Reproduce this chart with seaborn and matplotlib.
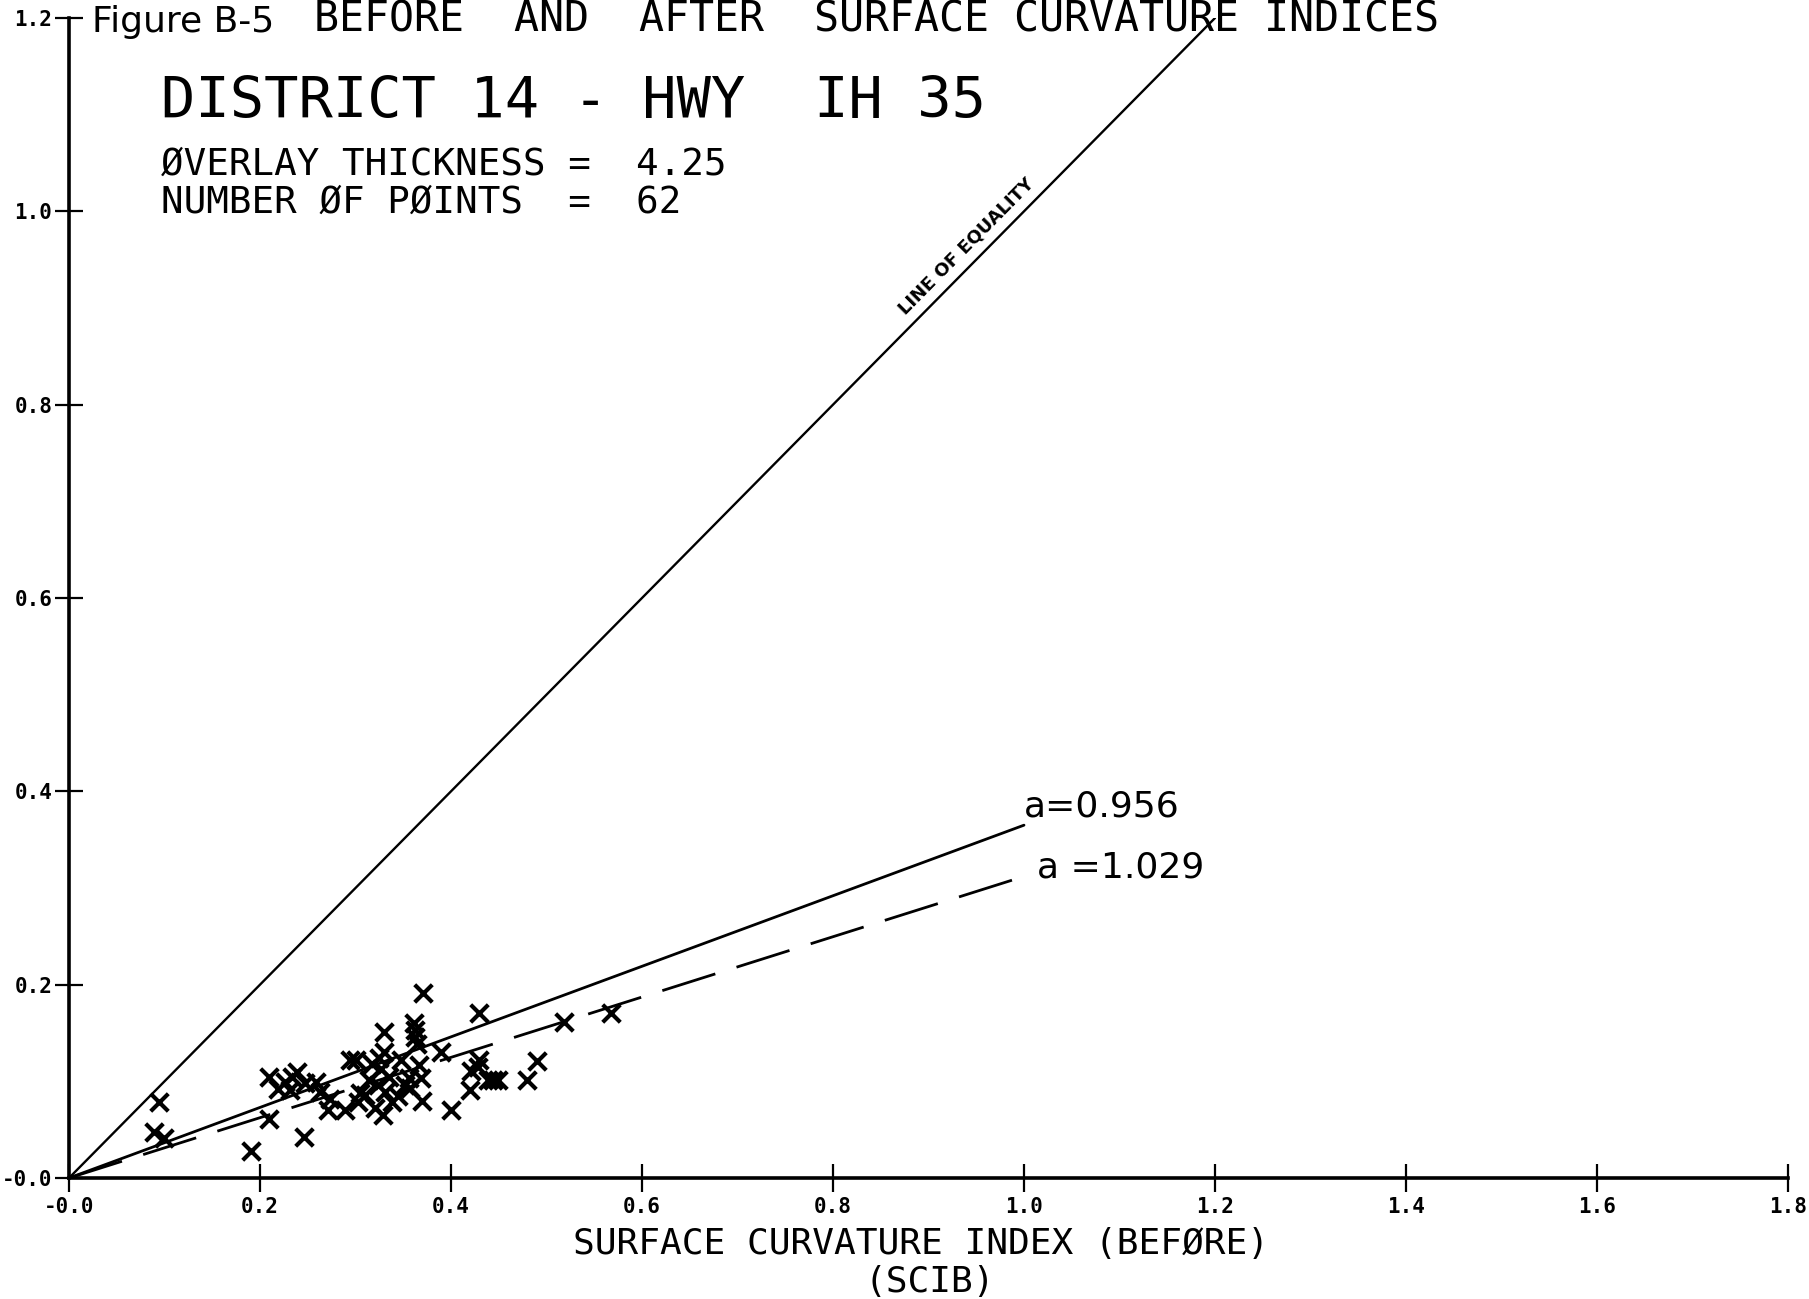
import matplotlib
matplotlib.use("Agg")
import matplotlib.pyplot as plt
import numpy as np
import pandas as pd
import seaborn as sns

# ---- data ----
scib = [0.094, 0.089, 0.099, 0.191, 0.246, 0.209, 0.209, 0.219, 0.226, 0.233,
        0.239, 0.231, 0.259, 0.263, 0.271, 0.273, 0.289, 0.294, 0.301, 0.303,
        0.310, 0.317, 0.320, 0.324, 0.327, 0.329, 0.330, 0.330, 0.331, 0.338,
        0.348, 0.352, 0.356, 0.361, 0.362, 0.362, 0.364, 0.366, 0.369, 0.370,
        0.371, 0.390, 0.400, 0.420, 0.421, 0.428, 0.429, 0.429, 0.439, 0.449,
        0.480, 0.490, 0.518, 0.568, 0.305, 0.335, 0.345, 0.357, 0.314, 0.247,
        0.444, 0.325]
scia = [0.079, 0.048, 0.041, 0.028, 0.042, 0.061, 0.105, 0.092, 0.099, 0.104,
        0.110, 0.091, 0.099, 0.089, 0.070, 0.082, 0.070, 0.122, 0.122, 0.079,
        0.086, 0.118, 0.072, 0.096, 0.113, 0.065, 0.151, 0.130, 0.089, 0.079,
        0.122, 0.096, 0.103, 0.160, 0.153, 0.146, 0.139, 0.117, 0.103, 0.080,
        0.191, 0.130, 0.070, 0.091, 0.111, 0.115, 0.171, 0.122, 0.101, 0.101,
        0.101, 0.121, 0.161, 0.171, 0.088, 0.104, 0.085, 0.093, 0.101, 0.098,
        0.101, 0.124]

equality_x = [0.0, 1.2]
fit_x = [0.0, 1.0]
fit_solid_y = [0.0, 0.365]      # a = 0.956
fit_dashed_y = [0.0, 0.312]     # a = 1.029

x_ticks = [0.0, 0.2, 0.4, 0.6, 0.8, 1.0, 1.2, 1.4, 1.6, 1.8]
x_tick_labels = ["-0.0", "0.2", "0.4", "0.6", "0.8", "1.0", "1.2", "1.4", "1.6", "1.8"]
y_ticks = [0.0, 0.2, 0.4, 0.6, 0.8, 1.0, 1.2]
y_tick_labels = ["-0.0", "0.2", "0.4", "0.6", "0.8", "1.0", "1.2"]

sns.set_theme(style="white")
plt.rcParams['font.family'] = ['DejaVu Sans Mono', 'DejaVu Sans']
plt.rcParams['text.color'] = 'black'
plt.rcParams['xtick.color'] = 'black'
plt.rcParams['ytick.color'] = 'black'

fig = plt.figure(figsize=(18.09, 12.99), dpi=100)
ax = fig.add_axes([69 / 1809, 121 / 1299, 1719 / 1809, 1160 / 1299])

df = pd.DataFrame({"SCIB": scib, "SCIA": scia})
sns.scatterplot(data=df, x="SCIB", y="SCIA", marker="x", s=160, color="black",
                linewidth=3.0, ax=ax, legend=False, clip_on=False, zorder=3)

sns.lineplot(x=equality_x, y=equality_x, color="black", linewidth=1.7, ax=ax)
sns.lineplot(x=fit_x, y=fit_solid_y, color="black", linewidth=2.0, ax=ax)
sns.lineplot(x=fit_x, y=fit_dashed_y, color="black", linewidth=2.0, ax=ax)
ax.lines[-1].set_linestyle((0, (20, 8)))

ax.set_xlim(0, 1.8)
ax.set_ylim(0, 1.2)
ax.set_xticks(x_ticks)
ax.set_xticklabels(x_tick_labels)
ax.set_yticks(y_ticks)
ax.set_yticklabels(y_tick_labels)
ax.set_xlabel("")
ax.set_ylabel("")
for s in ["top", "right"]:
    ax.spines[s].set_visible(False)
for s in ["left", "bottom"]:
    ax.spines[s].set_linewidth(2.6)
    ax.spines[s].set_color("black")
ax.tick_params(axis="both", direction="inout", length=20, width=1.6,
               colors="black", labelsize=15, bottom=True, left=True)
ax.tick_params(axis="x", pad=4)
ax.tick_params(axis="y", pad=2)
for lab in ax.get_xticklabels() + ax.get_yticklabels():
    lab.set_fontweight("bold")
ax.grid(False)

# annotations
ax.text(1.0, 0.374, "a=0.956", fontsize=26, family="DejaVu Sans", va="baseline", ha="left")
ax.text(1.014, 0.311, "a =1.029", fontsize=26, family="DejaVu Sans", va="baseline", ha="left")
ax.text(0.94, 0.964, "LINE OF EQUALITY", rotation=45.3, rotation_mode="anchor",
        ha="center", va="center", fontsize=13, fontweight="bold", family="DejaVu Sans")

fig.text(161 / 1809, 1 - 118 / 1299, "DISTRICT 14 - HWY  IH 35", fontsize=41, va="baseline")
fig.text(161 / 1809, 1 - 175 / 1299, "ØVERLAY THICKNESS =  4.25", fontsize=27, va="baseline")
fig.text(161 / 1809, 1 - 213 / 1299, "NUMBER ØF PØINTS  =  62", fontsize=27, va="baseline")

fig.text(92 / 1809, 1 - 32 / 1299, "Figure B-5", fontsize=26, family="DejaVu Sans", va="baseline")
fig.text(314 / 1809, 1 - 32 / 1299, "BEFORE  AND  AFTER  SURFACE CURVATURE INDICES",
         fontsize=30, va="baseline")

fig.text(921 / 1809, 1 - 1254 / 1299, "SURFACE CURVATURE INDEX (BEFØRE)", fontsize=26,
         ha="center", va="baseline")
fig.text(930 / 1809, 1 - 1292 / 1299, "(SCIB)", fontsize=26, ha="center", va="baseline")

fig.savefig("out.png", dpi=100, facecolor="white")
